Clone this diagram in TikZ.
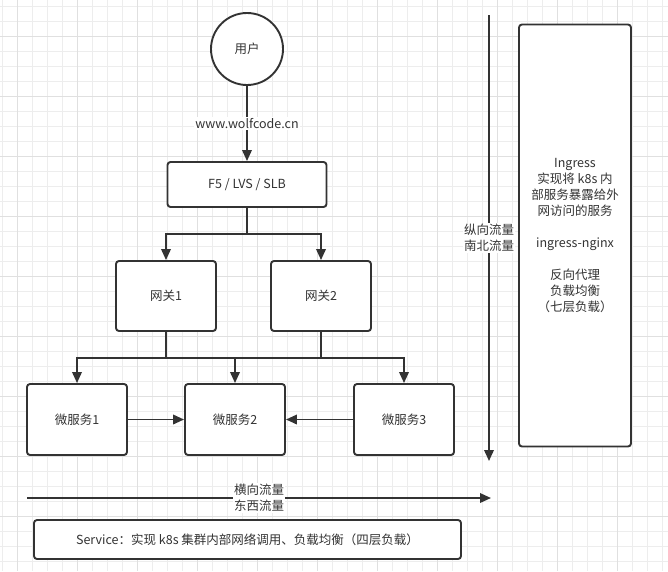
\documentclass[tikz,border=0pt]{standalone}
\usepackage{xcolor}
\usepackage{tikz}
\usepackage{fontspec}
\setmainfont{Noto Sans CJK SC}
\usetikzlibrary{arrows.meta, positioning}

\definecolor{ink}{HTML}{333333}
\definecolor{gridminor}{HTML}{EDEDED}
\definecolor{gridmajor}{HTML}{E0E0E0}
\newcommand{\diagfont}{\fontsize{12.5}{16}\selectfont}

\begin{document}
\begin{tikzpicture}[x=1pt, y=-1pt, on grid, node distance=100pt,
        >={Triangle[length=11pt, width=9.5pt]},
        box/.style={draw=ink, line width=1.9pt, rounded corners=3pt, fill=white,
            text=ink, font=\diagfont, align=center, inner sep=0pt},
        user/.style={circle, draw=ink, line width=1.9pt, fill=white,
            text=ink, font=\diagfont, minimum size=72pt},
        link/.style={draw=ink, line width=1.9pt},
        lbl/.style={fill=white, text=ink, font=\diagfont, align=center, inner sep=1pt}]

        % background paper
        \useasboundingbox (0,0) rectangle (668,571);
        \fill[white] (0,0) rectangle (668,571);
        \foreach \gx in {2,17,...,662} \draw[gridminor, line width=1pt] (\gx,0) -- (\gx,571);
        \foreach \gy in {6.7,21.7,...,566.7} \draw[gridminor, line width=1pt] (0,\gy) -- (668,\gy);
        \foreach \gx in {17,77,...,617} \draw[gridmajor, line width=1pt] (\gx,0) -- (\gx,571);
        \foreach \gy in {36.7,96.7,...,516.7} \draw[gridmajor, line width=1pt] (0,\gy) -- (668,\gy);

        \node[user] (user) at (247,49) {用户};
        \node[box, minimum width=159pt, minimum height=45pt] (lb) [below=135.5pt of user] {F5 / LVS / SLB};

        \node[box, minimum width=100pt, minimum height=70pt] (gw1) [below left=111.5pt and 81pt of lb] {网关1};
        \node[box, minimum width=100pt, minimum height=70pt] (gw2) [right=155pt of gw1] {网关2};

        \node[box, minimum width=100pt, minimum height=71pt] (ms1) [below left=123.5pt and 89pt of gw1] {微服务1};
        \node[box, minimum width=100pt, minimum height=71pt] (ms2) [right=158pt of ms1] {微服务2};
        \node[box, minimum width=100pt, minimum height=71pt] (ms3) [right=169pt of ms2] {微服务3};

        \node[box, minimum width=112pt, minimum height=422pt] (ingress) at (575,235.5)
            {Ingress\\实现将 k8s 内\\部服务暴露给外\\网访问的服务\\[16pt]ingress-nginx\\[16pt]反向代理\\负载均衡\\（七层负载）};
        \node[box, minimum width=427pt, minimum height=39pt] (svc) at (247.5,539.5)
            {Service：实现 k8s 集群内部网络调用、负载均衡（四层负载）};

        \coordinate[below=49.5pt of lb] (fork1);
        \coordinate[below=62pt of gw1] (fork2);
        \coordinate (nstop) at (489,15);
        \coordinate (nsbot) at (489,461);
        \coordinate (ewleft) at (27,498);
        \coordinate (ewright) at (491,498);

        \draw[link, ->] (user) -- node[lbl] {www.wolfcode.cn} (lb);
        \draw[link] (lb) -- (fork1);
        \draw[link, ->] (fork1) -| (gw1);
        \draw[link, ->] (fork1) -| (gw2);

        \draw[link] (gw1) -- (fork2);
        \draw[link] (gw2) -- (gw2 |- fork2);
        \draw[link, ->] (fork2) -| (ms1);
        \draw[link, ->] (fork2) -| (ms2);
        \draw[link, ->] (fork2) -| (ms3);

        \draw[link, ->] (ms1) -- (ms2);
        \draw[link, ->] (ms3) -- (ms2);

        \draw[link, ->] (nstop) -- node[lbl] {纵向流量\\南北流量} (nsbot);
        \draw[link, ->] (ewleft) -- node[lbl] {横向流量\\东西流量} (ewright);
\end{tikzpicture}
\end{document}
